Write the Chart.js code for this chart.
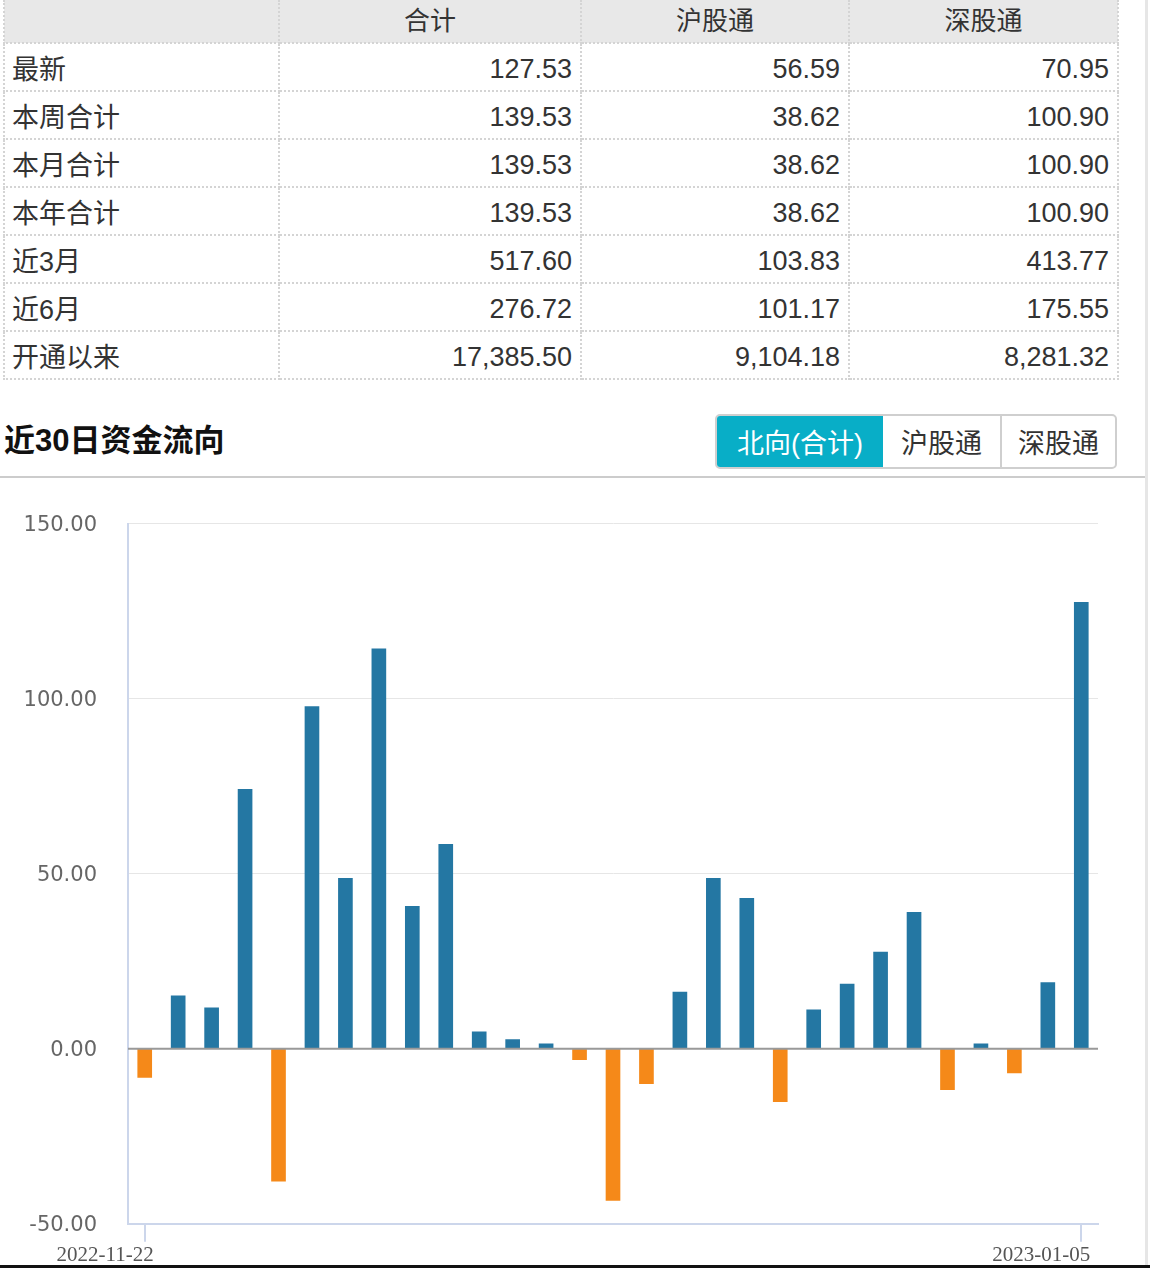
<!DOCTYPE html>
<html>
<head>
<meta charset="utf-8">
<script src="https://cdn.jsdelivr.net/npm/chart.js@4/dist/chart.umd.min.js"></script>
<style>
  html, body { margin: 0; padding: 0; background: #fff; }
  body { width: 1150px; height: 1268px; position: relative; overflow: hidden;
         font-family: "Liberation Sans", "Noto Sans CJK SC", sans-serif; color: #333; }
  #tbl { position: absolute; left: 3px; top: 0; width: 1114px; border-collapse: collapse; table-layout: fixed; }
  #tbl th, #tbl td { border: 2px dotted #d4d4d4; padding: 0 8px; white-space: nowrap; }
  #tbl th { height: 42px; background: #e8e8e8; font-weight: normal; font-size: 26px; text-align: center; color: #333; border-top: none; padding-bottom: 5px; box-sizing: border-box; }
  #tbl td { height: 46px; font-size: 27px; text-align: right; color: #333; }
  #tbl td.num { padding-top: 4px; box-sizing: border-box; }
  #tbl td.lbl { text-align: left; padding-left: 7px; }
  #title { position: absolute; left: 4px; top: 419px; font-size: 31px; font-weight: bold; color: #111; line-height: 44px; }
  #btns { position: absolute; left: 715px; top: 414px; width: 402px; height: 55px; box-sizing: border-box;
          border: 2px solid #cfcfcf; border-radius: 5px; display: flex; overflow: hidden; }
  #btns div { display: flex; align-items: center; justify-content: center; font-size: 27px; color: #333; box-sizing: border-box; }
  #btns .active { background: #08aec7; color: #fff; }
  #btns .sep { border-left: 2px solid #cfcfcf; }
  #divider { position: absolute; left: 0; top: 476px; width: 1145px; height: 2px; background: #cccccc; }
  #rightline { position: absolute; left: 1145px; top: 0; width: 3px; height: 1268px; background: #e6e6e6; }
  #bottomline { position: absolute; left: 0; top: 1265px; width: 1150px; height: 3px; background: #111; }
  #chartbox { position: absolute; left: 0; top: 480px; width: 1140px; height: 789px; }
  #chartbox canvas { display: block; }
</style>
</head>
<body>
<table id="tbl"></table>
<div id="title">近30日资金流向</div>
<div id="btns"></div>
<div id="divider"></div>
<div id="rightline"></div>
<div id="chartbox"><canvas id="c" width="1140" height="789"></canvas></div>
<div id="bottomline"></div>
<script>
// ---- table data ----
const tableHeaders = ["", "合计", "沪股通", "深股通"];
const rowLabels = ["最新", "本周合计", "本月合计", "本年合计", "近3月", "近6月", "开通以来"];
const totalCol = ["127.53", "139.53", "139.53", "139.53", "517.60", "276.72", "17,385.50"];
const shCol = ["56.59", "38.62", "38.62", "38.62", "103.83", "101.17", "9,104.18"];
const szCol = ["70.95", "100.90", "100.90", "100.90", "413.77", "175.55", "8,281.32"];
const colWidths = [275, 302, 268, 269];

// ---- chart data ----
const buttonLabels = ["北向(合计)", "沪股通", "深股通"];
const chartTitle = "近30日资金流向";
const dates = [
  "2022-11-22","2022-11-23","2022-11-24","2022-11-25","2022-11-28","2022-11-29","2022-11-30",
  "2022-12-01","2022-12-02","2022-12-05","2022-12-06","2022-12-07","2022-12-08","2022-12-09",
  "2022-12-12","2022-12-13","2022-12-14","2022-12-15","2022-12-16","2022-12-19","2022-12-20",
  "2022-12-21","2022-12-22","2022-12-28","2022-12-29","2022-12-30","2023-01-03","2023-01-04","2023-01-05"
];
const netFlow = [
  -8.2, 15.1, 11.7, 74.1, -37.8, 97.7, 48.7, 114.2, 40.7, 58.4,
  4.8, 2.6, 1.4, -3.1, -43.3, -10.0, 16.2, 48.7, 43.0, -15.1,
  11.1, 18.5, 27.6, 39.0, -11.7, 1.4, -6.9, 18.9, 127.53
];
const yTickValues = [-50, 0, 50, 100, 150];
const shownDateLabels = [dates[0], dates[dates.length - 1]];

// build table
const tbl = document.getElementById('tbl');
const cg = document.createElement('colgroup');
colWidths.forEach(w => { const c = document.createElement('col'); c.style.width = w + 'px'; cg.appendChild(c); });
tbl.appendChild(cg);
const hr = document.createElement('tr');
tableHeaders.forEach(h => { const th = document.createElement('th'); th.textContent = h; hr.appendChild(th); });
tbl.appendChild(hr);
rowLabels.forEach((lbl, i) => {
  const tr = document.createElement('tr');
  [lbl, totalCol[i], shCol[i], szCol[i]].forEach((v, j) => {
    const td = document.createElement('td'); td.textContent = v; td.className = j === 0 ? 'lbl' : 'num'; tr.appendChild(td);
  });
  tbl.appendChild(tr);
});
// buttons
const btnWidths = [166, 117, 115];
const btns = document.getElementById('btns');
buttonLabels.forEach((b, i) => {
  const d = document.createElement('div'); d.textContent = b; d.style.width = btnWidths[i] + 'px';
  if (i === 0) d.className = 'active'; else if (i === 2) d.className = 'sep';
  btns.appendChild(d);
});
document.getElementById('title').textContent = chartTitle;

const BLUE = '#2477a3', ORANGE = '#f58919';
const zeroLine = {
  id: 'zeroLine',
  afterDatasetsDraw(chart) {
    const y = chart.scales.y.getPixelForValue(0);
    const a = chart.chartArea; const ctx = chart.ctx;
    ctx.save(); ctx.strokeStyle = '#999999'; ctx.lineWidth = 2;
    ctx.beginPath(); ctx.moveTo(a.left, y); ctx.lineTo(a.right, y); ctx.stroke(); ctx.restore();
  }
};

new Chart(document.getElementById('c'), {
  type: 'bar',
  data: {
    labels: dates,
    datasets: [{
      data: netFlow,
      backgroundColor: netFlow.map(v => v >= 0 ? BLUE : ORANGE),
      barThickness: 14,
      borderWidth: 0
    }]
  },
  options: {
    responsive: false,
    animation: false,
    layout: { padding: { top: 41, right: 42, left: 0, bottom: 0 } },
    plugins: { legend: { display: false }, tooltip: { enabled: false } },
    scales: {
      x: {
        offset: true,
        grid: {
          offset: false, drawOnChartArea: false, drawTicks: true, tickLength: 18, lineWidth: 2,
          color: (ctx) => (ctx.index === 0 || ctx.index === dates.length - 1) ? '#ccd6eb' : 'rgba(0,0,0,0)'
        },
        border: { color: '#ccd6eb', width: 2 },
        ticks: {
          autoSkip: false, maxRotation: 0, minRotation: 0, align: 'end', labelOffset: 9, padding: 1,
          color: '#555', font: { family: '"Liberation Serif", serif', size: 21 },
          callback: (v, i) => shownDateLabels.includes(dates[i]) ? dates[i] : ''
        }
      },
      y: {
        min: yTickValues[0], max: yTickValues[yTickValues.length - 1],
        afterFit(s) { s.width = 128; },
        afterBuildTicks(s) { s.ticks = yTickValues.map(v => ({ value: v })); },
        grid: {
          drawTicks: false, lineWidth: 1,
          color: (ctx) => (ctx.tick && (ctx.tick.value === 0 || ctx.tick.value === yTickValues[0])) ? 'rgba(0,0,0,0)' : '#e6e6e6'
        },
        border: { color: '#ccd6eb', width: 2 },
        ticks: {
          padding: 31, color: '#666', labelOffset: 2,
          font: { family: '"DejaVu Sans", sans-serif', size: 21 },
          callback: (v) => Number(v).toFixed(2)
        }
      }
    }
  },
  plugins: [zeroLine]
});
</script>
</body>
</html>
